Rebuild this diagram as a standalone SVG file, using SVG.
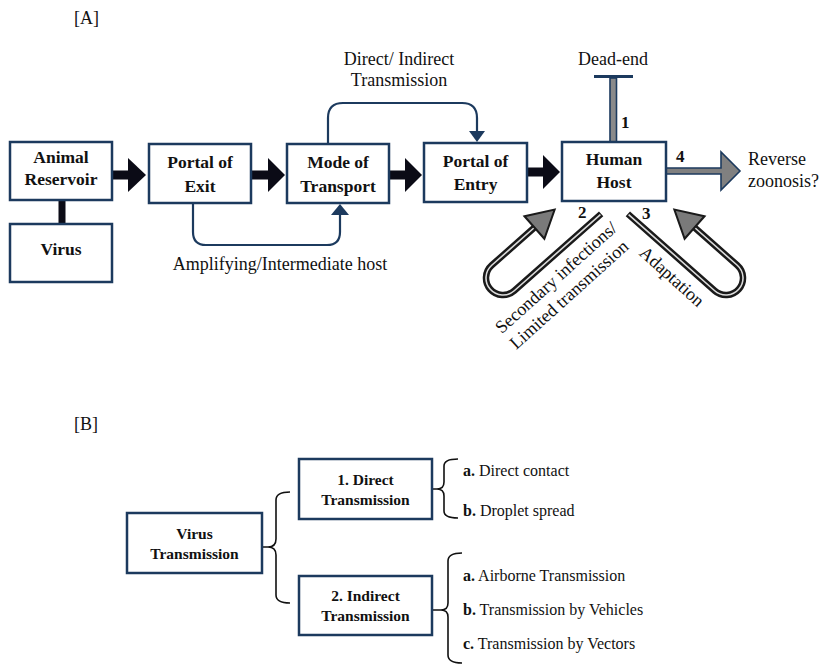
<svg xmlns="http://www.w3.org/2000/svg" width="821" height="665" viewBox="0 0 821 665">
<defs>
<style>
.box{fill:#fff;stroke:#1c3a5e;stroke-width:2.5}
.lbl{font-family:"Liberation Serif","Times New Roman",serif;font-weight:bold;font-size:17.5px;fill:#111;text-anchor:middle}
.lblb{font-family:"Liberation Serif","Times New Roman",serif;font-weight:bold;font-size:15.5px;fill:#111;text-anchor:middle}
.txt{font-family:"Liberation Serif","Times New Roman",serif;font-size:18px;fill:#111}
.item{font-family:"Liberation Serif","Times New Roman",serif;font-size:16px;fill:#111}
.num{font-family:"Liberation Serif","Times New Roman",serif;font-weight:bold;font-size:17px;fill:#111}
.blk{fill:#0b0b16}
.nav{fill:none;stroke:#1c3a5e;stroke-width:2.2}
.tube{fill:none;stroke:#1a1a1a;stroke-width:6.5}
.tubein{fill:none;stroke:#dcdcdc;stroke-width:1.6}
.ghead{fill:#7a7a7a;stroke:#1a1a1a;stroke-width:2;stroke-linejoin:miter}
.brace{fill:none;stroke:#111;stroke-width:1.6}
</style>
<g id="uarrow">
<path class="tube" d="M116,17 L0,17 A17,17 0 0 1 0,-17 L60,-17"/>
<path class="tubein" d="M115,17 L0,17 A17,17 0 0 1 0,-17 L60,-17"/>
<polygon class="ghead" points="57,-32 84,-17 57,-2"/>
</g>
</defs>
<rect width="821" height="665" fill="#fff"/>

<text class="txt" x="74" y="24">[A]</text>
<text class="txt" x="74" y="430">[B]</text>

<!-- connectors -->
<g id="connectors">
<rect class="blk" x="58.5" y="200" width="7" height="24"/>
<rect class="blk" x="112" y="170.5" width="18" height="9"/>
<polygon class="blk" points="128,158 146,175 128,192"/>
<rect class="blk" x="251" y="170.5" width="19" height="9"/>
<polygon class="blk" points="268,158 285,175 268,192"/>
<rect class="blk" x="389" y="170.5" width="18" height="9"/>
<polygon class="blk" points="405,158 422,175 405,192"/>
<rect class="blk" x="527" y="167.5" width="18" height="9"/>
<polygon class="blk" points="543,155 560,172 543,189"/>
<path class="nav" d="M328,143 L328,118 Q328,103 343,103 L462,103 Q477,103 477,118 L477,133"/>
<polygon fill="#1c3a5e" points="469,131 485,131 477,142"/>
<path class="nav" d="M193,203 L193,232 Q193,245 206,245 L327,245 Q340,245 340,232 L340,214"/>
<polygon fill="#1c3a5e" points="331,215 349,215 340,204"/>
<!-- dead-end -->
<rect x="610" y="78" width="6.5" height="64" fill="#8a8a8a" stroke="#1c3a5e" stroke-width="1.6"/>
<rect x="594" y="75" width="39" height="3" fill="#1c3a5e"/>
<!-- reverse zoonosis -->
<polygon points="666,168 721,168 721,152 740,171 721,190 721,174 666,174" fill="#808080" stroke="#1c3a5e" stroke-width="1.6"/>
<!-- U arrows -->
<use href="#uarrow" transform="translate(503,278) rotate(-41.5)"/>
<use href="#uarrow" transform="translate(726,278) scale(-1,1) rotate(-41.5)"/>
<!-- braces part B -->
<path class="brace" d="M262,547 L268,547 Q276,547 276,539 L276,500 Q276,492 290,492 M268,547 Q276,547 276,555 L276,595 Q276,603 290,603"/>
<path class="brace" d="M432,489 L437,489 Q444,489 444,482 L444,466 Q444,459 458,459 M437,489 Q444,489 444,496 L444,511 Q444,518 458,518"/>
<path class="brace" d="M432,610 L441,610 Q448,610 448,603 L448,561 Q448,553 462,553 M441,610 Q448,610 448,617 L448,655 Q448,663 462,663"/>
</g>

<g id="animal-reservoir">
<rect class="box" x="10" y="142" width="102" height="58"/>
<text class="lbl" x="61" y="163">Animal</text>
<text class="lbl" x="61" y="185">Reservoir</text>
</g>
<g id="virus">
<rect class="box" x="10" y="224" width="102" height="58"/>
<text class="lbl" x="61" y="255">Virus</text>
</g>
<g id="portal-exit">
<rect class="box" x="149" y="144" width="102" height="59"/>
<text class="lbl" x="200" y="168">Portal of</text>
<text class="lbl" x="200" y="192">Exit</text>
</g>
<g id="mode-transport">
<rect class="box" x="287" y="144" width="102" height="59"/>
<text class="lbl" x="338" y="168">Mode of</text>
<text class="lbl" x="338" y="192">Transport</text>
</g>
<g id="portal-entry">
<rect class="box" x="424" y="143" width="103" height="59"/>
<text class="lbl" x="475.5" y="167">Portal of</text>
<text class="lbl" x="475.5" y="190">Entry</text>
</g>
<g id="human-host">
<rect class="box" x="562" y="142" width="104" height="59"/>
<text class="lbl" x="614" y="165">Human</text>
<text class="lbl" x="614" y="188">Host</text>
</g>

<g id="labels-a">
<text class="txt" x="399" y="65" text-anchor="middle">Direct/ Indirect</text>
<text class="txt" x="399" y="86" text-anchor="middle">Transmission</text>
<text class="txt" x="280" y="270" text-anchor="middle">Amplifying/Intermediate host</text>
<text class="txt" x="613" y="65" text-anchor="middle">Dead-end</text>
<text class="txt" x="748" y="165">Reverse</text>
<text class="txt" x="748" y="187">zoonosis?</text>
<text class="num" x="621" y="128">1</text>
<text class="num" x="578" y="218">2</text>
<text class="num" x="642" y="219">3</text>
<text class="num" x="676" y="162">4</text>
<text class="txt" text-anchor="middle" transform="translate(560,282) rotate(-42)">Secondary infections/</text>
<text class="txt" text-anchor="middle" transform="translate(573,299) rotate(-42)">Limited transmission</text>
<text class="txt" text-anchor="middle" transform="translate(668,281) rotate(42)">Adaptation</text>
</g>

<g id="virus-transmission">
<rect class="box" x="127" y="513" width="135" height="60"/>
<text class="lblb" x="194.5" y="539">Virus</text>
<text class="lblb" x="194.5" y="559">Transmission</text>
</g>
<g id="direct-transmission">
<rect class="box" x="299" y="459" width="133" height="60"/>
<text class="lblb" x="365.5" y="485">1. Direct</text>
<text class="lblb" x="365.5" y="505">Transmission</text>
</g>
<g id="indirect-transmission">
<rect class="box" x="299" y="576" width="133" height="59"/>
<text class="lblb" x="365.5" y="601">2. Indirect</text>
<text class="lblb" x="365.5" y="621">Transmission</text>
</g>
<g id="items-b">
<text class="item" x="463" y="476"><tspan font-weight="bold">a.</tspan> Direct contact</text>
<text class="item" x="463" y="516"><tspan font-weight="bold">b.</tspan> Droplet spread</text>
<text class="item" x="463" y="581"><tspan font-weight="bold">a.</tspan> Airborne Transmission</text>
<text class="item" x="463" y="615"><tspan font-weight="bold">b.</tspan> Transmission by Vehicles</text>
<text class="item" x="463" y="649"><tspan font-weight="bold">c.</tspan> Transmission by Vectors</text>
</g>
</svg>
